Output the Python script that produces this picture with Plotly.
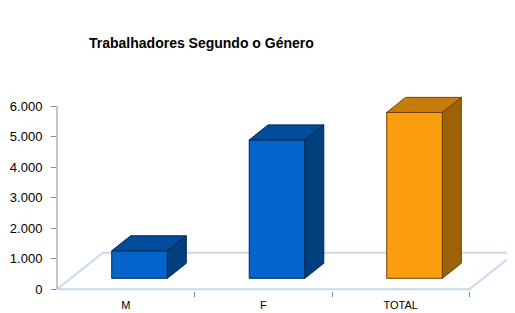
import plotly.graph_objects as go

categories = ["M", "F", "TOTAL"]
values = [900, 4530, 5430]
front_colors = ["#0565CC", "#0565CC", "#FA9E10"]
top_colors = ["#034C9C", "#034C9C", "#C77D0B"]
side_colors = ["#023F7E", "#023F7E", "#9C6205"]
edge_colors = ["#012A55", "#012A55", "#6A4203"]
y_ticks = [0, 1000, 2000, 3000, 4000, 5000, 6000]

# projection constants (data units)
FLOOR_DX, FLOOR_DY = 0.335, 1200
F_FRONT, F_BACK = 0.30, 0.71
BAR_W = 0.405

# page body has an 8px default margin; size the figure to fit the window
W, H = 507, 305

fig = go.Figure()

xs = list(range(len(categories)))
n = len(categories)

# floor (drawn as a layout shape below traces)
fx = [-0.5, n - 0.5, n - 0.5 + FLOOR_DX, -0.5 + FLOOR_DX]
fy = [0, 0, FLOOR_DY, FLOOR_DY]
floor_path = "M " + " L ".join(f"{a},{b}" for a, b in zip(fx, fy)) + " Z"

fdx, fdy = F_FRONT * FLOOR_DX, F_FRONT * FLOOR_DY
bdx, bdy = F_BACK * FLOOR_DX, F_BACK * FLOOR_DY
ddx, ddy = bdx - fdx, bdy - fdy

# front faces
fig.add_trace(go.Bar(x=[c + fdx for c in xs], y=values, base=[fdy] * n,
                     width=BAR_W,
                     marker=dict(color=front_colors,
                                 line=dict(color=edge_colors, width=1)),
                     showlegend=False, hoverinfo="skip"))

for c, v, tc, sc, ec in zip(xs, values, top_colors, side_colors, edge_colors):
    xl = c + fdx - BAR_W / 2
    xr = c + fdx + BAR_W / 2
    top = fdy + v
    # top face
    fig.add_trace(go.Scatter(
        x=[xl, xr, xr + ddx, xl + ddx, xl],
        y=[top, top, top + ddy, top + ddy, top],
        mode="lines", fill="toself", fillcolor=tc,
        line=dict(color=ec, width=1), hoverinfo="skip", showlegend=False))
    # side face
    fig.add_trace(go.Scatter(
        x=[xr, xr, xr + ddx, xr + ddx, xr],
        y=[fdy, top, top + ddy, fdy + ddy, fdy],
        mode="lines", fill="toself", fillcolor=sc,
        line=dict(color=ec, width=1), hoverinfo="skip", showlegend=False))

fig.update_layout(
    template="none",
    width=W, height=H,
    margin=dict(l=49, r=0, t=82, b=22, autoexpand=False),
    plot_bgcolor="white", paper_bgcolor="white",
    separators=",.",
    font=dict(family="Liberation Sans, Arial, sans-serif", color="#000000"),
    title=dict(text="<b>Trabalhadores Segundo o Género</b>",
               xref="container", yref="container",
               x=81 / W, xanchor="left",
               y=1 - 35 / H, yanchor="middle",
               font=dict(size=14, color="#000000")),
    xaxis=dict(range=[-0.5, -0.5 + 458 / 137.5], tickvals=xs, ticktext=categories,
               showgrid=False, zeroline=False, showline=False, automargin=False,
               ticks="", tickfont=dict(size=11), ticklabelstandoff=6,
               minor=dict(tickvals=[0.5, 1.5, 2.5], ticks="outside",
                          ticklen=5, tickcolor="#8C8C8C", tickwidth=1,
                          showgrid=False)),
    yaxis=dict(range=[-56, 6524], tickvals=y_ticks, tickformat=",d",
               showgrid=False, zeroline=False, showline=False, automargin=False,
               ticks="outside", ticklen=5, tickcolor="#8C8C8C", tickwidth=1,
               tickfont=dict(size=13), ticklabelstandoff=6),
    shapes=[
        dict(type="path", xref="x", yref="y", path=floor_path, layer="below",
             fillcolor="white", line=dict(color="#C6D9F1", width=2)),
        dict(type="line", xref="paper", yref="y", x0=0, x1=0,
             y0=0, y1=6000, line=dict(color="#8C8C8C", width=1)),
    ],
)

fig.write_html("out.html")
